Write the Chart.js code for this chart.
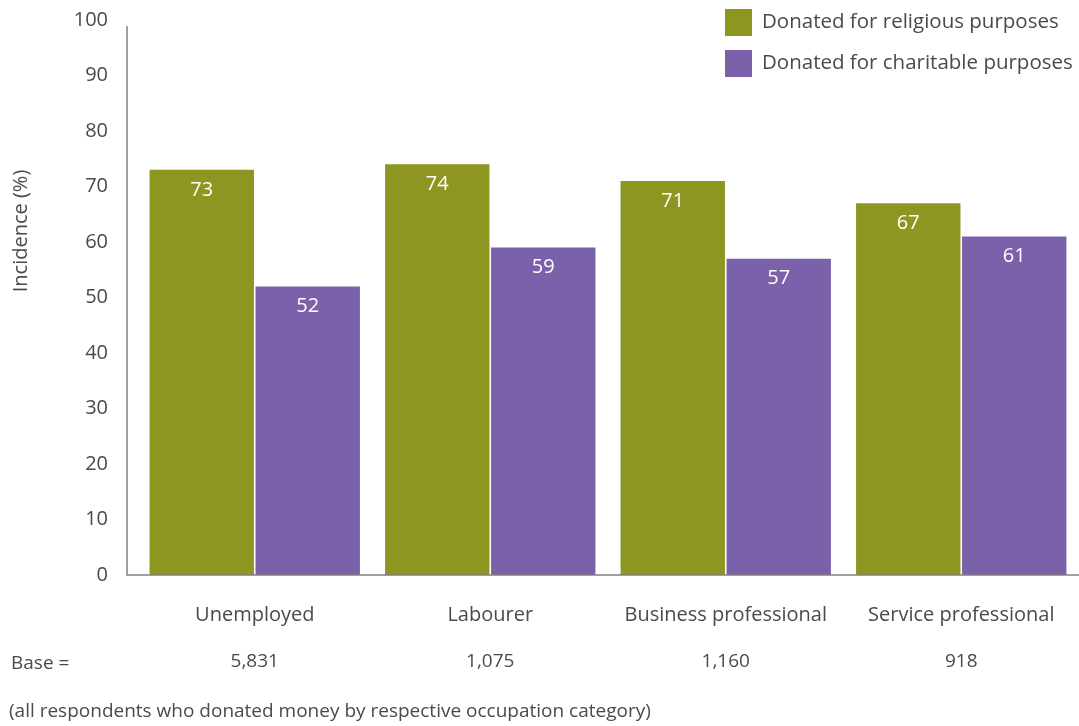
<!DOCTYPE html>
<html>
<head>
<meta charset="utf-8">
<script src="https://cdn.jsdelivr.net/npm/chart.js@4"></script>
<style>
  html, body { margin: 0; padding: 0; background: #fff; }
  #wrap { width: 1079px; height: 726px; position: relative; }
</style>
</head>
<body>
<div id="wrap"><canvas id="chart" width="1079" height="726"></canvas></div>
<script>
// ---------- data ----------
const categories = ["Unemployed", "Labourer", "Business professional", "Service professional"];
const religious = [73, 74, 71, 67];
const charitable = [52, 59, 57, 61];
const bases = ["5,831", "1,075", "1,160", "918"];
const seriesNames = ["Donated for religious purposes", "Donated for charitable purposes"];
const yTicks = [0, 10, 20, 30, 40, 50, 60, 70, 80, 90, 100];

const green = "#8c9621";
const purple = "#7b61a9";
const textColor = "#4a4a4a";
const fontFamily = "'Open Sans', 'DejaVu Sans', sans-serif";

// ---------- custom drawing: axes lines, value labels, legend, base row ----------
const extras = {
    id: "extras",
    afterDatasetsDraw(chart) {
        const c = chart.ctx;
        const area = chart.chartArea;
        const x = chart.scales.x;

        // axis lines
        c.save();
        c.strokeStyle = "#808080";
        c.lineWidth = 1.5;
        c.beginPath();
        c.moveTo(127, 26);
        c.lineTo(127, area.bottom);
        c.lineTo(1079, area.bottom);
        c.stroke();

        // value labels inside bars
        c.fillStyle = "#ffffff";
        c.font = "20px " + fontFamily;
        c.textAlign = "center";
        c.textBaseline = "middle";
        chart.data.datasets.forEach((ds, i) => {
            chart.getDatasetMeta(i).data.forEach((bar, j) => {
                c.fillText(ds.data[j], bar.x, bar.y + 20);
            });
        });

        // y axis title
        c.save();
        c.translate(21, 231);
        c.rotate(-Math.PI / 2);
        c.fillStyle = textColor;
        c.font = "20px " + fontFamily;
        c.fillText("Incidence (%)", 0, 0);
        c.restore();

        // legend
        c.textAlign = "left";
        c.font = "20.5px " + fontFamily;
        chart.data.datasets.forEach((ds, i) => {
            const top = 9 + i * 41;
            c.fillStyle = ds.backgroundColor;
            c.fillRect(725, top, 27, 27);
            c.fillStyle = textColor;
            c.fillText(ds.label, 762, top + 13);
        });

        // base row
        c.fillStyle = textColor;
        c.font = "19px " + fontFamily;
        c.fillText("Base =", 11, 664);
        c.textAlign = "center";
        bases.forEach((b, j) => {
            c.fillText(b, x.getPixelForValue(j), 662);
        });

        // footnote
        c.textAlign = "left";
        c.fillText("(all respondents who donated money by respective occupation category)", 9, 712);
        c.restore();
    }
};

const ctx = document.getElementById("chart");
new Chart(ctx, {
    type: "bar",
    data: {
        labels: categories,
        datasets: [
            { label: seriesNames[0], data: religious, backgroundColor: green },
            { label: seriesNames[1], data: charitable, backgroundColor: purple }
        ]
    },
    options: {
        responsive: false,
        animation: false,
        events: [],
        layout: { padding: { top: 20, right: 0, left: 0, bottom: 0 } },
        datasets: {
            bar: { categoryPercentage: 0.9, barPercentage: 0.985 }
        },
        plugins: {
            legend: { display: false },
            tooltip: { enabled: false }
        },
        scales: {
            x: {
                grid: { display: false, drawTicks: false },
                border: { display: false },
                ticks: {
                    color: textColor,
                    font: { family: fontFamily, size: 20 },
                    padding: 28,
                    maxRotation: 0
                },
                afterFit(scale) {
                    scale.height = 151;
                    scale.paddingLeft = 0;
                    scale.paddingRight = 0;
                }
            },
            y: {
                min: 0,
                max: 100,
                grid: { display: false, drawTicks: false },
                border: { display: false },
                afterBuildTicks(scale) { scale.ticks = yTicks.map(v => ({ value: v })); },
                ticks: {
                    color: textColor,
                    font: { family: fontFamily, size: 20 },
                    padding: 29
                },
                afterFit(scale) {
                    scale.width = 137;
                    scale.paddingTop = 0;
                    scale.paddingBottom = 0;
                }
            }
        }
    },
    plugins: [extras]
});
</script>
</body>
</html>
